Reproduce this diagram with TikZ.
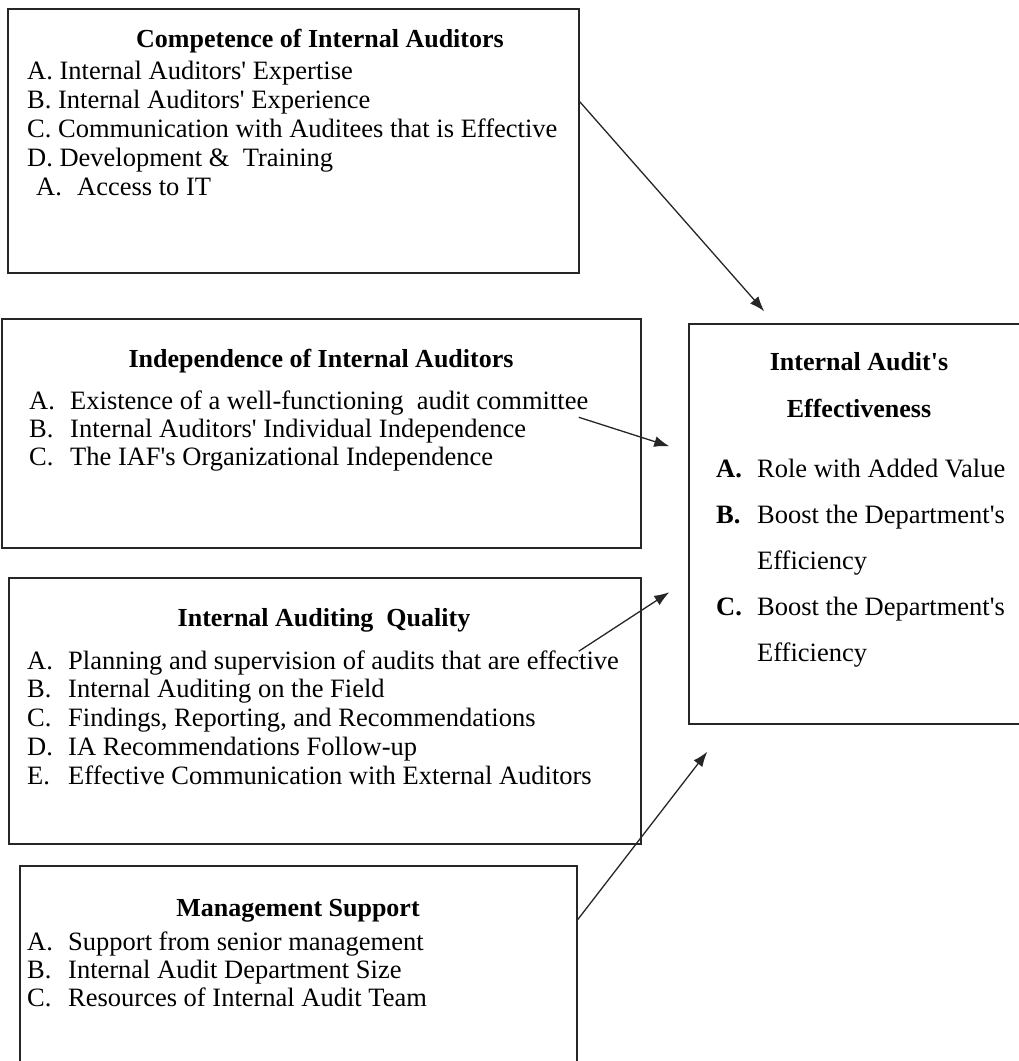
\documentclass[tikz,border=0pt]{standalone}
\usepackage{fontspec}
\setmainfont{Liberation Serif}
\usetikzlibrary{arrows.meta,calc}
\newcommand\apos{\textquotesingle}
\newcommand\bodyfont{\fontsize{26.5}{28.5}\selectfont}
\newcommand\headfont{\fontsize{26}{28.5}\selectfont\bfseries}
\newcommand\lbl[1]{\makebox[41pt][l]{#1}}

\begin{document}
\begin{tikzpicture}[x=1pt,y=-1pt,
  box/.style={draw=black!85, line width=1.5pt, rectangle, inner sep=0pt},
  title/.style={anchor=base, inner sep=0pt, font=\headfont},
  item/.style={anchor=base west, inner sep=0pt, font=\bodyfont},
  link/.style={draw=black!85, line width=1.3pt, -{Latex[length=15pt,width=11pt]}}
]
\clip (0,0) rectangle (1019,1061);

% ---- boxes
\node[box, minimum width=571pt, minimum height=264pt] (comp) at (293.5,141) {};
\node[box, minimum width=639pt, minimum height=229pt] (indep) at (321.5,433.5) {};
\node[box, minimum width=632pt, minimum height=266pt] (qual) at (325,711) {};
\node[box, minimum width=557pt, minimum height=209pt] (mgmt) at (298.5,970.5) {};
\node[box, minimum width=341pt, minimum height=400pt] (eff) at (859.5,524) {};

% ---- competence
\node[title] (comp-t) at (320,47) {Competence of Internal Auditors};
\node[item] (comp-a) at (27,79) {A. Internal Auditors\apos{} Expertise};
\node[item] (comp-b) at (27,108) {B. Internal Auditors\apos{} Experience};
\node[item] (comp-c) at (27,137) {C. Communication with Auditees that is Effective};
\node[item] (comp-d) at (27,166) {D. Development \&~ Training};
\node[item] (comp-e) at (36,195) {\lbl{A.}Access to IT};

% ---- independence
\node[title] (indep-t) at (321,367) {Independence of Internal Auditors};
\node[item] (indep-a) at (29,409) {\lbl{A.}Existence of a well-functioning~ audit committee};
\node[item] (indep-b) at (29,437.5) {\lbl{B.}Internal Auditors\apos{} Individual Independence};
\node[item] (indep-c) at (29,465.5) {\lbl{C.}The IAF\apos{}s Organizational Independence};

% ---- quality
\node[title] (qual-t) at (324,626) {Internal Auditing~ Quality};
\node[item] (qual-a) at (27,669) {\lbl{A.}Planning and supervision of audits that are effective};
\node[item] (qual-b) at (27,697.5) {\lbl{B.}Internal Auditing on the Field};
\node[item] (qual-c) at (27,726) {\lbl{C.}Findings, Reporting, and Recommendations};
\node[item] (qual-d) at (27,755) {\lbl{D.}IA Recommendations Follow-up};
\node[item] (qual-e) at (27,784) {\lbl{E.}Effective Communication with External Auditors};

% ---- management support
\node[title] (mgmt-t) at (298,916) {Management Support};
\node[item] (mgmt-a) at (27,950) {\lbl{A.}Support from senior management};
\node[item] (mgmt-b) at (27,978) {\lbl{B.}Internal Audit Department Size};
\node[item] (mgmt-c) at (27,1006) {\lbl{C.}Resources of Internal Audit Team};

% ---- effectiveness
\node[title] (eff-t1) at (859,370) {Internal Audit\apos{}s};
\node[title] (eff-t2) at (859,417) {Effectiveness};
\node[item] (eff-a) at (716,477) {\lbl{\bfseries A.}Role with Added Value};
\node[item] (eff-b) at (716,523) {\lbl{\bfseries B.}Boost the Department\apos{}s};
\node[item] (eff-b2) at (757,569) {Efficiency};
\node[item] (eff-c) at (716,615) {\lbl{\bfseries C.}Boost the Department\apos{}s};
\node[item] (eff-c2) at (757,661) {Efficiency};

% ---- connector ends
\coordinate (s1) at ($(comp.north east)!0.352!(comp.south east)$);
\coordinate (s2) at ($(indep.north east)+(-63,99)$);
\coordinate (s3) at ($(qual.north east)+(-63,74)$);
\coordinate (s4) at ($(mgmt.north east)!0.258!(mgmt.south east)$);
\coordinate (t1) at ($(eff.north west)+(76,-12)$);
\coordinate (t2) at ($(eff.north west)+(-19,123)$);
\coordinate (t3) at ($(eff.north west)+(-19,269)$);
\coordinate (t4) at ($(eff.south west)+(19,27)$);

% ---- connectors
\draw[link] (s1) -- (t1);
\draw[link] (s2) -- (t2);
\draw[link] (s3) -- (t3);
\draw[link] (s4) -- (t4);
\end{tikzpicture}
\end{document}
